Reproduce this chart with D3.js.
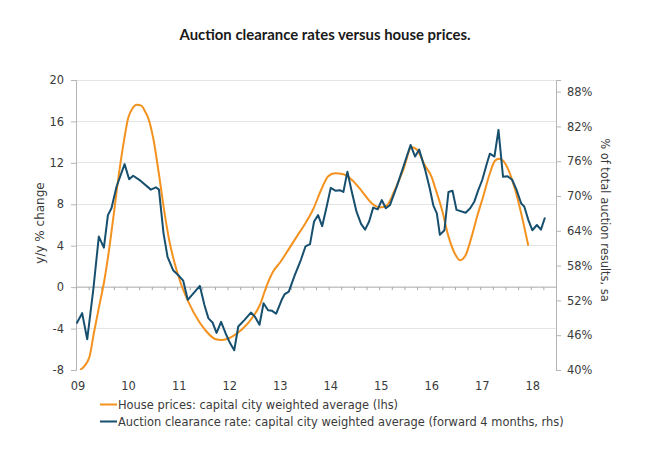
<!DOCTYPE html>
<html>
<head>
<meta charset="utf-8">
<script src="https://cdn.jsdelivr.net/npm/d3@7"></script>
<style>
  html, body { margin: 0; padding: 0; background: #fff; }
  svg { display: block; }
  text { font-family: "DejaVu Sans", Verdana, sans-serif; fill: #3a3a3a; }
</style>
</head>
<body>
<svg id="chart" width="668" height="455"></svg>
<script>
// ---- Data ----
const title = "Auction clearance rates versus house prices.";
const leftAxisTitle = "y/y % change";
const rightAxisTitle = "% of total auction results, sa";
const yearLabels = ["09", "10", "11", "12", "13", "14", "15", "16", "17", "18"];
const leftTicks = [-8, -4, 0, 4, 8, 12, 16, 20];
const rightTicks = [40, 46, 52, 58, 64, 70, 76, 82, 88];
const seriesNames = [
  "House prices: capital city weighted average (lhs)",
  "Auction clearance rate: capital city weighted average (forward 4 months, rhs)"
];

// House prices, y/y % change (lhs) – time in decimal years
const houseT = [2009.04, 2009.22, 2009.31, 2009.41, 2009.51, 2009.61, 2009.71, 2009.81, 2009.91, 2009.99,
  2010.07, 2010.16, 2010.26, 2010.32, 2010.39, 2010.49, 2010.60, 2010.70, 2010.80, 2010.90,
  2011.03, 2011.19, 2011.39, 2011.51, 2011.71, 2011.84, 2012.04, 2012.24, 2012.44, 2012.60,
  2012.73, 2012.86, 2013.00, 2013.16, 2013.33, 2013.49, 2013.65, 2013.82, 2013.95, 2014.08,
  2014.25, 2014.41, 2014.61, 2014.81, 2014.97, 2015.11, 2015.27, 2015.44, 2015.60, 2015.70,
  2015.87, 2016.00, 2016.06, 2016.20, 2016.33, 2016.46, 2016.56, 2016.66, 2016.79, 2016.89,
  2017.02, 2017.15, 2017.25, 2017.33, 2017.41, 2017.51, 2017.65, 2017.78, 2017.91];
const houseV = [-8.0, -6.8, -4.5, -2.0, 0.4, 3.5, 7.2, 11.0, 14.2, 16.3,
  17.2, 17.6, 17.5, 17.0, 16.3, 14.3, 10.9, 7.5, 4.6, 2.5,
  0.4, -1.5, -3.3, -4.1, -5.0, -5.1, -4.8, -4.1, -3.0, -1.7,
  0.1, 1.5, 2.4, 3.6, 4.9, 6.1, 7.5, 9.5, 10.7, 11.0,
  10.9, 10.4, 9.3, 8.1, 7.7, 7.9, 9.4, 11.4, 13.5, 13.3,
  11.7, 10.6, 9.7, 7.5, 4.9, 3.2, 2.6, 3.0, 4.9, 6.7,
  8.8, 11.0, 12.2, 12.4, 12.2, 11.4, 9.4, 6.9, 4.0];

// Auction clearance rate, % (rhs)
const auctionT = [2008.97, 2009.08, 2009.18, 2009.30, 2009.41, 2009.51, 2009.59, 2009.66, 2009.76, 2009.92,
  2010.01, 2010.09, 2010.24, 2010.44, 2010.54, 2010.60, 2010.69, 2010.77, 2010.88, 2011.00,
  2011.08, 2011.17, 2011.41, 2011.50, 2011.58, 2011.66, 2011.74, 2011.83, 2011.92, 2012.01,
  2012.09, 2012.17, 2012.29, 2012.42, 2012.50, 2012.59, 2012.67, 2012.76, 2012.84, 2012.92,
  2013.03, 2013.09, 2013.17, 2013.29, 2013.41, 2013.50, 2013.59, 2013.67, 2013.75, 2013.83,
  2013.92, 2014.00, 2014.10, 2014.18, 2014.25, 2014.33, 2014.41, 2014.51, 2014.60, 2014.68,
  2014.76, 2014.84, 2014.93, 2015.01, 2015.09, 2015.17, 2015.31, 2015.44, 2015.58, 2015.67,
  2015.75, 2015.87, 2015.96, 2016.03, 2016.10, 2016.16, 2016.25, 2016.33, 2016.41, 2016.49,
  2016.67, 2016.76, 2016.84, 2016.92, 2017.00, 2017.09, 2017.15, 2017.24, 2017.32, 2017.41,
  2017.50, 2017.59, 2017.68, 2017.77, 2017.83, 2017.91, 2017.99, 2018.08, 2018.16, 2018.24];
const auctionV = [48.0, 49.8, 45.3, 53.8, 63.0, 61.1, 66.7, 67.9, 71.6, 75.5,
  72.9, 73.5, 72.6, 71.1, 71.5, 71.1, 63.6, 59.5, 57.2, 56.2,
  55.4, 52.1, 54.5, 51.2, 48.9, 48.2, 46.4, 48.3, 46.3, 44.6,
  43.4, 47.5, 48.6, 49.9, 49.2, 47.8, 51.5, 50.3, 50.2, 49.7,
  52.1, 53.1, 53.5, 56.4, 59.0, 61.3, 61.7, 65.6, 66.7, 64.8,
  68.2, 71.4, 70.9, 71.0, 70.7, 74.2, 71.0, 67.3, 65.2, 64.2,
  65.6, 68.0, 67.7, 69.3, 67.9, 68.4, 71.7, 75.1, 78.8, 76.8,
  78.0, 74.5, 71.3, 68.4, 67.0, 63.3, 64.1, 70.7, 70.9, 67.6,
  67.1, 67.9, 69.0, 71.0, 72.8, 75.6, 77.3, 76.8, 81.4, 73.3,
  73.4, 72.8, 71.0, 68.7, 68.2, 65.9, 64.1, 65.0, 64.2, 66.3];

// ---- Layout ----
const svg = d3.select("#chart");
const plot = { left: 76, right: 556, top: 80, bottom: 370 };
const orange = "#F4921F";
const blue = "#174F6F";
const fs = "11.45px";

const x = d3.scaleLinear()
  .domain([2009 - 0.5 / 12, 2018 + 5.5 / 12])
  .range([plot.left, plot.right]);
const yL = d3.scaleLinear().domain([-8, 20]).range([plot.bottom, plot.top]);
const yR = d3.scaleLinear().domain([40, 90]).range([plot.bottom, plot.top]);

// Title
svg.append("text")
  .attr("x", 325).attr("y", 40)
  .attr("text-anchor", "middle")
  .style("font-family", "Lato, 'Open Sans', sans-serif")
  .style("font-weight", "bold")
  .style("font-size", "14.9px")
  .style("fill", "#1a1a1a")
  .text(title);

// Gridlines
svg.append("g")
  .selectAll("line")
  .data(leftTicks.filter(d => d !== 0 && d !== -8))
  .join("line")
  .attr("x1", plot.left).attr("x2", plot.right)
  .attr("y1", d => yL(d)).attr("y2", d => yL(d))
  .attr("stroke", "#e4e4e4").attr("stroke-width", 1)
  .attr("shape-rendering", "crispEdges");

// Left axis
const gL = svg.append("g")
  .attr("transform", `translate(${plot.left},0)`)
  .call(d3.axisLeft(yL).tickValues(leftTicks).tickSize(5).tickPadding(7).tickFormat(d => String(d)));
gL.select(".domain").attr("stroke", "#b5b5b5");
gL.selectAll(".tick line").attr("stroke", "#b5b5b5");
gL.selectAll("text").style("font-size", fs).style("fill", "#3a3a3a")
  .style("font-family", "'DejaVu Sans', Verdana, sans-serif");

// Right axis
const gR = svg.append("g")
  .attr("transform", `translate(${plot.right},0)`)
  .call(d3.axisRight(yR).tickValues(rightTicks).tickSize(5).tickPadding(6).tickFormat(d => d + "%"));
gR.select(".domain").attr("stroke", "#b5b5b5");
gR.selectAll(".tick line").attr("stroke", "#b5b5b5");
gR.selectAll("text").style("font-size", fs).style("fill", "#3a3a3a")
  .style("font-family", "'DejaVu Sans', Verdana, sans-serif");

// Zero line with quarterly tick marks
const quarterTicks = d3.range(0, 38).map(k => x.domain()[0] + 0.25 * k);
const gZ = svg.append("g")
  .attr("transform", `translate(0,${yL(0)})`)
  .call(d3.axisBottom(x).tickValues(quarterTicks).tickSize(3).tickFormat(""));
gZ.select(".domain").attr("stroke", "#a8a8a8").attr("d", `M${plot.left},0H${plot.right}`);
gZ.selectAll(".tick line").attr("stroke", "#a8a8a8");

// Year labels along the bottom
svg.append("g")
  .selectAll("text")
  .data(yearLabels)
  .join("text")
  .attr("x", (d, i) => x(2009 + i))
  .attr("y", 390)
  .attr("text-anchor", "middle")
  .style("font-size", fs)
  .text(d => d);

// Axis titles
svg.append("text")
  .attr("transform", `translate(43.5,${223}) rotate(-90)`)
  .attr("text-anchor", "middle")
  .style("font-size", "12px")
  .text(leftAxisTitle);
svg.append("text")
  .attr("transform", `translate(601,${220}) rotate(90)`)
  .attr("text-anchor", "middle")
  .style("font-size", fs)
  .text(rightAxisTitle);

// Lines
const houseData = houseT.map((t, i) => [t, houseV[i]]);
const auctionData = auctionT.map((t, i) => [t, auctionV[i]]);

svg.append("defs").append("clipPath").attr("id", "clip")
  .append("rect")
  .attr("x", plot.left).attr("y", plot.top)
  .attr("width", plot.right - plot.left).attr("height", plot.bottom - plot.top);

const lineL = d3.line().x(d => x(d[0])).y(d => yL(d[1])).curve(d3.curveMonotoneX);
const lineR = d3.line().x(d => x(d[0])).y(d => yR(d[1]));

svg.append("path")
  .datum(houseData)
  .attr("clip-path", "url(#clip)")
  .attr("fill", "none").attr("stroke", orange).attr("stroke-width", 2)
  .attr("stroke-linejoin", "round")
  .attr("d", lineL);

svg.append("path")
  .datum(auctionData)
  .attr("clip-path", "url(#clip)")
  .attr("fill", "none").attr("stroke", blue).attr("stroke-width", 2)
  .attr("stroke-linejoin", "round")
  .attr("d", lineR);

// Legend
const legend = svg.append("g");
const legendColors = [orange, blue];
const legendY = [404.5, 421.5];
seriesNames.forEach((name, i) => {
  legend.append("line")
    .attr("x1", 100).attr("x2", 117)
    .attr("y1", legendY[i]).attr("y2", legendY[i])
    .attr("stroke", legendColors[i]).attr("stroke-width", 2);
  legend.append("text")
    .attr("x", 118).attr("y", legendY[i] + 4.3)
    .style("font-size", fs)
    .text(name);
});
</script>
</body>
</html>
